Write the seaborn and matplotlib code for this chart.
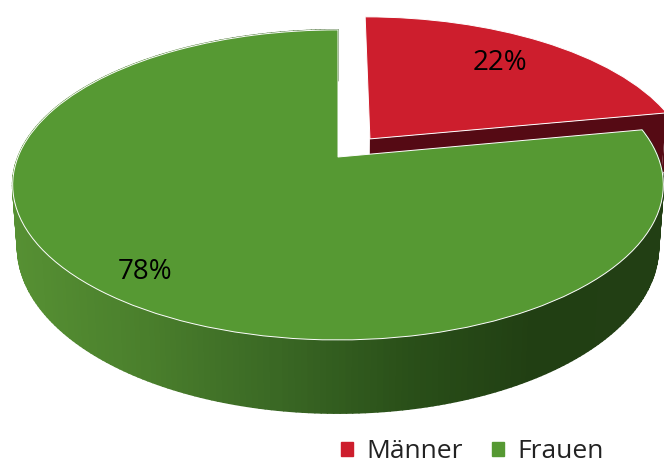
import matplotlib
matplotlib.use("Agg")
import matplotlib.pyplot as plt
import numpy as np
import seaborn as sns
from matplotlib.collections import PolyCollection
from matplotlib.colors import LinearSegmentedColormap
from matplotlib.patches import Patch, Polygon
from matplotlib.transforms import Transform

labels = ["Männer", "Frauen"]
values = [22, 78]
colors = ["#cd1e2d", "#569933"]
wall_dark_red = "#550a14"
wall_greens = ["#569033", "#4a7f2c", "#3a6824", "#2a5019", "#213f13", "#223f14"]

# where the unit pie lands on the picture, in pixels
CX, CY = 338, 157
PERSP = 0.18
KX, KY = 320, 150
DEPTH = 60
SHRINK = 0.985


class Tilt(Transform):
    input_dims = output_dims = 2

    def transform_non_affine(self, xy):
        xy = np.asarray(xy, dtype=float)
        w = 1 + PERSP * xy[:, 1]
        return np.column_stack([CX + KX * xy[:, 0] / w, CY - KY * xy[:, 1] / w])


tilt = Tilt()


def rim(cx, cy, t0, t1, n=200):
    t = np.radians(np.linspace(t0, t1, n))
    return np.column_stack([cx + np.cos(t), cy + np.sin(t)])


def drop(xy):
    # same point on the lower edge of the cake
    w = 1 + PERSP * xy[:, 1]
    p = tilt.transform(xy)
    p[:, 0] = CX + (p[:, 0] - CX) * SHRINK
    p[:, 1] += DEPTH / w
    return p


sns.set_theme(style="white")
plt.rcParams["font.family"] = ["Open Sans", "DejaVu Sans"]

fig = plt.figure(figsize=(6.64, 4.66), dpi=100)
ax = fig.add_axes([0, 0, 1, 1])

explode = [0.16, 0]
wedges, texts, pcts = ax.pie(values, colors=sns.color_palette(colors), explode=explode,
                             startangle=90, counterclock=False, autopct="%d%%", pctdistance=0.75,
                             wedgeprops=dict(edgecolor="white", linewidth=0.7),
                             textprops=dict(fontsize=20, color="black"))
ax.set_aspect("auto")
ax.set_xlim(0, 664)
ax.set_ylim(466, 0)
ax.axis("off")

for w in wedges:
    w.set_transform(tilt + ax.transData)
    w.set_zorder(4)
for t in pcts:
    t.set_transform(tilt + ax.transData)
    t.set_zorder(6)
pcts[0].set_position((0.57, 0.705))
pcts[1].set_position((-0.53, -0.675))

# red wall, behind everything, only the part that can show
red = wedges[0]
mid = np.radians((red.theta1 + red.theta2) / 2)
ox, oy = explode[0] * np.cos(mid), explode[0] * np.sin(mid)
top = rim(ox, oy, red.theta1 - 25, red.theta1)
face = np.vstack([[[ox, oy]], top[-1:]])
for a in (top, face):
    ax.add_patch(Polygon(np.vstack([tilt.transform(a), drop(a)[::-1]]), color=wall_dark_red, lw=0, zorder=1))

# green wall, split in small strips for the shading
green = wedges[1]
edge = rim(0, 0, green.theta1, green.theta2, 300)
upper, lower = tilt.transform(edge), drop(edge)
strips = [np.vstack([upper[i:i + 2], lower[i:i + 2][::-1]]) for i in range(len(edge) - 1)]
cmap = LinearSegmentedColormap.from_list("wall", wall_greens)
xs = upper[:-1, 0]
shade = cmap((xs - xs.min()) / (xs.max() - xs.min()))
ax.add_collection(PolyCollection(strips, facecolors=shade, edgecolors=shade, linewidths=1.2, zorder=2))

handles = [Patch(color=c) for c in colors]
ax.legend(handles, labels, ncol=2, loc="center", bbox_to_anchor=(472 / 664, 1 - 452 / 466), frameon=False,
          fontsize=19, handlelength=0.46, handleheight=0.46, handletextpad=0.5, columnspacing=1.1,
          borderpad=0, borderaxespad=0, labelcolor="#222222")

fig.savefig("out.png", dpi=100)
